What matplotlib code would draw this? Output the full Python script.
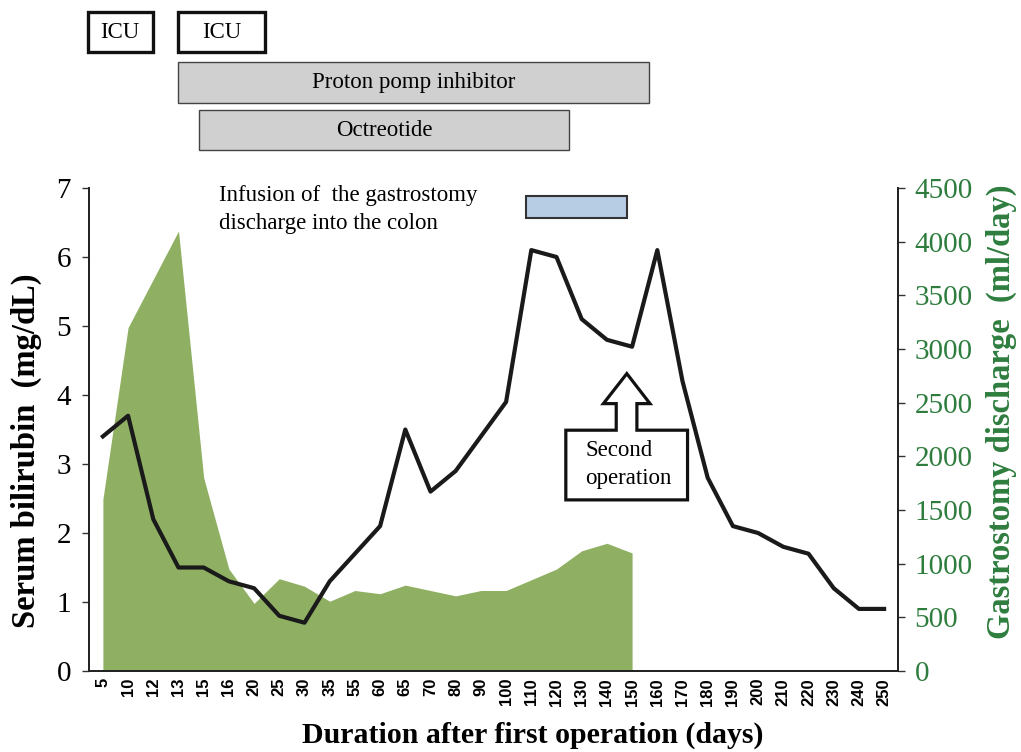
import numpy as np
import matplotlib
matplotlib.use("Agg")
import matplotlib.pyplot as plt
from matplotlib.patches import Rectangle, Polygon

plt.rcParams['font.family'] = ['Liberation Serif', 'DejaVu Serif']

# data
days = ['5', '10', '12', '13', '15', '16', '20', '25', '30', '35', '55', '60',
        '65', '70', '80', '90', '100', '110', '120', '130', '140', '150', '160',
        '170', '180', '190', '200', '210', '220', '230', '240', '250']
bilirubin = [3.4, 3.7, 2.2, 1.5, 1.5, 1.3, 1.2, 0.8, 0.7, 1.3, 1.7, 2.1,
             3.5, 2.6, 2.9, 3.4, 3.9, 6.1, 6.0, 5.1, 4.8, 4.7, 6.1,
             4.2, 2.8, 2.1, 2.0, 1.8, 1.7, 1.2, 0.9, 0.9]
discharge = [1600, 3200, 3650, 4100, 1800, 950, 630, 860, 790, 650, 750, 720,
             800, 750, 700, 750, 750, 850, 950, 1120, 1190, 1100]

GREEN_FILL = '#8fb063'
GREEN_TXT = '#2e7d3e'

fig = plt.figure(figsize=(10.21, 7.52), dpi=100)
ax = fig.add_axes([0.0872, 0.1077, 0.7923, 0.6423])
ax2 = ax.twinx()

x = np.arange(len(days))
xd = np.arange(len(discharge))

# gastrostomy discharge area (right axis)
ax2.fill_between(xd, 0, discharge, color=GREEN_FILL, linewidth=0)
ax2.set_ylim(0, 4500)
ax2.set_yticks(np.arange(0, 4501, 500))
ax2.tick_params(axis='y', colors='#333333', labelcolor=GREEN_TXT, labelsize=21,
                length=5, width=1, pad=7)
for lbl in ax2.get_yticklabels():
    lbl.set_color(GREEN_TXT)

# bilirubin line (left axis, drawn on top)
ax.set_zorder(ax2.get_zorder() + 1)
ax.patch.set_visible(False)
ax.plot(x, bilirubin, color='#1a1a1a', linewidth=3)
ax.set_ylim(0, 7)
ax.set_yticks(range(0, 8))
ax.set_xlim(-0.55, 31.55)
ax.set_xticks(x)
ax.set_xticklabels(days, rotation=90, fontfamily='Liberation Sans',
                   fontweight='bold', fontsize=12)
ax.tick_params(axis='x', length=0, pad=5)
ax.tick_params(axis='y', labelsize=21, length=5, width=1, pad=8, color='#333333')

for a in (ax, ax2):
    a.spines['top'].set_visible(False)
    for s in ('left', 'right', 'bottom'):
        a.spines[s].set_linewidth(1.3)
        a.spines[s].set_color('#222222')

ax.set_ylabel('Serum bilirubin  (mg/dL)', fontsize=23.5, fontweight='bold')
ax.yaxis.set_label_coords(-0.058, 0.455)
ax2.set_ylabel('Gastrostomy discharge  (ml/day)', fontsize=23.5,
               fontweight='bold', color=GREEN_TXT, rotation=90)
ax2.yaxis.set_label_coords(1.108, 0.536)
ax.set_xlabel('Duration after first operation (days)', fontsize=21.5,
              fontweight='bold')
ax.xaxis.set_label_coords(0.549, -0.105)

# infusion annotation
ax.text(4.6, 7.04, 'Infusion of  the gastrostomy\ndischarge into the colon',
        fontsize=16.5, ha='left', va='top', linespacing=1.4)
ax.add_patch(Rectangle((16.79, 6.56), 4.01, 0.33, facecolor='#b7cde4',
                       edgecolor='#333333', linewidth=1.5, clip_on=False))

# second operation callout
callout = [(18.37, 2.48), (18.37, 3.49), (20.37, 3.49), (20.37, 3.875),
           (19.86, 3.875), (20.79, 4.31), (21.71, 3.875), (21.19, 3.875),
           (21.19, 3.49), (23.2, 3.49), (23.2, 2.48)]
ax.add_patch(Polygon(callout, closed=True, facecolor='white',
                     edgecolor='#111111', linewidth=2.3, joinstyle='miter'))
ax.text(19.15, 2.99, 'Second\noperation', fontsize=16.5, ha='left',
        va='center', linespacing=1.4)

# treatment bars above the chart
top = fig.add_axes([0.0872, 0.7872, 0.7923, 0.2128])
top.set_xlim(ax.get_xlim())
top.set_ylim(160, 0)
top.axis('off')

bars = [
    (-0.6, 1.98, 12, 40, 'ICU', 'white', '#111111', 2.4),
    (2.98, 6.43, 12, 40, 'ICU', 'white', '#111111', 2.4),
    (2.98, 21.68, 62, 41, 'Proton pomp inhibitor', '#d0d0d0', '#444444', 1.0),
    (3.81, 18.5, 110, 40, 'Octreotide', '#d0d0d0', '#444444', 1.0),
]
for x0, x1, y0, h, label, fc, ec, lw in bars:
    top.add_patch(Rectangle((x0, y0), x1 - x0, h, facecolor=fc, edgecolor=ec,
                            linewidth=lw, clip_on=False))
    top.text((x0 + x1) / 2, y0 + h / 2, label, fontsize=16.5, ha='center',
             va='center')

fig.savefig('out.png', dpi=100)
